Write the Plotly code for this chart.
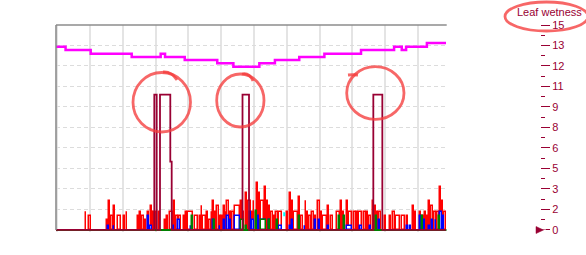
import plotly.graph_objects as go

# ---------------- data ----------------
# time axis in hours since start of record
X_END = 142.95
grid_t0 = 12.44
grid_dt = 12.0

# right axis (Leaf wetness) ticks
lw_tickvals = [0, 1.5, 3, 4.5, 6, 7.5, 9, 10.5, 12, 13.5, 15]
lw_ticktext = ["0", "2", "3", "5", "6", "8", "9", "11", "12", "13", "15"]
lw_minorvals = [0.75, 2.25, 3.75, 5.25, 6.75, 8.25, 9.75, 11.25, 12.75, 14.25]

# red series: change times (h) and values held until next change
red_t = [0, 10.61, 11.34, 11.71, 13.06, 18.55, 19.03, 19.76, 20.86, 21.59,
         22.32, 24.04, 24.52, 25.61, 26.24, 29.64, 30.55, 31.21, 32.2, 33.19,
         33.3, 34.39, 35.13, 35.6, 36.59, 37.58, 38.31, 39.88, 40.25, 40.98,
         41.46, 42.92, 43.8, 44.82, 45.99, 46.58, 47.31, 48.04, 50.49, 51.96,
         52.32, 53.06, 53.68, 54.89, 55.62, 56.97, 57.34, 58.07, 58.8, 59.64,
         60.63, 61.21, 61.95, 62.46, 63.3, 64.29, 65.24, 67.33, 68.31, 69.15,
         69.99, 71.6, 72.19, 72.81, 73.43, 74.16, 74.9, 76.11, 76.84, 77.83,
         78.56, 79.51, 80.39, 81.34, 82.95, 84.41, 85.25, 85.99, 86.83, 88.66,
         89.54, 90.49, 91.11, 91.73, 92.47, 93.56, 94.4, 95.39, 95.76, 96.6,
         97.44, 99.27, 100.0, 100.26, 101.46, 102.45, 103.92, 104.65, 105.38, 106.37,
         107.1, 108.56, 108.78, 110.03, 110.76, 112.22, 112.44, 113.43, 113.68, 114.27,
         115.26, 115.88, 116.47, 117.2, 117.93, 119.17, 120.01, 121.0, 121.95, 122.83,
         123.2, 124.04, 125.87, 126.49, 127.7, 128.32, 129.05, 130.26, 130.99, 131.98,
         132.82, 133.81, 134.65, 135.38, 136.37, 137.1, 138.05, 139.29, 140.14, 140.87,
         141.71, 142.7]
red_v = [0, 1.3, 0, 1.0, 0, 0.7, 2.1, 1.0, 1.75, 0,
         1.0, 0, 1.0, 1.3, 0, 1.0, 1.3, 1.0, 0.7, 0,
         1.3, 1.75, 1.3, 1.3, 0, 1.3, 0, 0.7, 1.0, 0,
         1.3, 2.1, 1.0, 1.0, 0, 1.0, 1.3, 1.3, 1.0, 0,
         1.0, 1.75, 1.0, 1.3, 0.7, 1.3, 2.1, 1.3, 1.75, 1.0,
         1.0, 1.75, 1.3, 2.1, 1.3, 1.3, 1.75, 2.1, 1.3, 2.7,
         2.1, 1.3, 2.1, 1.3, 3.45, 2.7, 2.1, 3.15, 2.1, 1.75,
         1.3, 1.0, 1.3, 1.3, 0, 1.3, 2.7, 2.1, 1.3, 2.4,
         1.0, 0, 2.1, 1.3, 1.0, 1.3, 1.0, 0, 2.1, 1.3,
         1.0, 1.75, 0, 1.0, 0, 1.3, 2.1, 1.3, 0, 2.1,
         1.3, 0, 1.3, 1.3, 1.3, 0, 1.3, 0, 1.3, 1.0,
         0, 2.1, 1.75, 1.3, 1.3, 0, 1.0, 0, 1.0, 0,
         1.3, 1.0, 0, 1.0, 0, 1.0, 0, 1.75, 1.3, 0,
         1.3, 1.0, 1.3, 1.0, 2.1, 1.75, 1.3, 1.3, 3.15, 2.1,
         1.3, 0]

# blue series: bar start, end (h) and value
blue_start = [18.92, 20.86, 33.3, 34.03, 42.7, 44.38, 49.03, 49.76, 57.34, 59.64,
              61.1, 62.46, 63.3, 65.24, 68.42, 70.73, 71.46, 73.8, 74.64, 75.85,
              77.83, 81.34, 85.36, 86.24, 90.74, 94.4, 95.86, 99.27, 106.11, 110.98,
              114.64, 117.93, 128.06, 129.27, 132.93, 134.39, 136.22, 137.47, 138.68, 140.25,
              141.24]
blue_end = [19.5, 21.48, 34.03, 35.13, 43.43, 45.37, 49.76, 50.49, 57.92, 60.37,
            61.95, 63.3, 64.03, 67.58, 69.15, 71.46, 72.45, 74.64, 75.85, 76.84,
            78.56, 82.95, 86.24, 87.08, 91.47, 95.13, 96.6, 100.0, 108.56, 112.22,
            115.37, 118.81, 128.8, 129.9, 133.81, 135.12, 137.1, 138.05, 139.29, 141.24,
            141.97]
blue_val = [0.3, 0.3, 1.0, 0.3, 0.3, 0.7, 0.3, 0.7, 0.7, 0.3,
            0.7, 1.0, 0.7, 1.0, 0.3, 1.3, 0.7, 1.0, 0.7, 0.7,
            0.7, 0.3, 0.3, 0.7, 0.3, 0.7, 0.7, 0.3, 0.3, 0.3,
            0.3, 0.7, 0.3, 0.3, 1.0, 0.7, 0.3, 0.7, 0.7, 1.3,
            1.0]

# green series
green_start = [49.65, 57.56, 67.33, 69.15, 72.81, 74.64, 77.68, 80.5, 88.66, 103.29,
               105.12, 116.72, 133.81, 139.88]
green_end = [50.24, 58.29, 69.15, 69.89, 73.8, 76.84, 78.56, 81.34, 89.54, 103.92,
             105.85, 117.56, 134.39, 140.51]
green_val = [1.0, 0.7, 0.7, 0.3, 1.4, 0.7, 0.7, 0.7, 1.0, 1.0,
             1.0, 1.0, 1.0, 1.0]

# cyan fragment
cyan_t = [83.5, 83.5]
cyan_v = [1.0, 1.3]

# magenta line (step)
mag_t = [0, 3.5, 12.7, 27.7, 38.3, 39.9, 47.1, 59.0, 64.9, 74.4,
         80.1, 89.0, 98.2, 111.6, 123.7, 126.5, 128.1, 135.7, 142.7]
mag_v = [13.4, 13.17, 12.9, 12.66, 12.9, 12.66, 12.44, 12.2, 11.95, 12.2,
         12.44, 12.66, 12.9, 13.17, 13.4, 13.17, 13.4, 13.68, 13.68]

# leaf wetness (step)
lw_t = [0, 35.97, 36.84, 38.05, 41.82, 42.33, 68.24, 70.62, 116.1, 119.4, 142.7]
lw_v = [0, 9.9, 0, 9.9, 5.0, 0, 9.9, 0, 9.9, 0, 0]

# ---------------- style ----------------
CRIMSON = "#990033"
RED = "#ff0000"
BLUE = "#0000ff"
GREEN = "#008000"
MAGENTA = "#ff00ff"
MARK = "rgba(245,60,60,0.78)"
FONT = "Liberation Sans, Arial, sans-serif"

W, H = 586, 255
ML, MR, MT, MB = 56, 10, 25, 23
PW, PH = W - ML - MR, H - MT - MB
XDOM = 390.7 / PW
SHRINK = 0.37  # outline compensation in hours


def px(xp, yp):
    return (xp - ML) / PW, (H - MB - yp) / PH


def bars_from_steps(t, v):
    xs, ws, ys = [], [], []
    for i in range(len(t) - 1):
        if v[i] > 0:
            a, b = t[i], t[i + 1]
            xs.append((a + b) / 2)
            ws.append(max(b - a - SHRINK, 0.12))
            ys.append(v[i])
    return xs, ws, ys


def bars_from_ranges(s, e, v):
    xs = [(a + b) / 2 for a, b in zip(s, e)]
    ws = [max(b - a - SHRINK, 0.12) for a, b in zip(s, e)]
    return xs, ws, list(v)


fig = go.Figure()
for (xs, ws, ys), col in [
    (bars_from_steps(red_t, red_v), RED),
    (bars_from_ranges(blue_start, blue_end, blue_val), BLUE),
    (bars_from_ranges(green_start, green_end, green_val), GREEN),
]:
    fig.add_trace(go.Bar(x=xs, y=ys, width=ws, base=0,
                         marker=dict(color="white", line=dict(color=col, width=1.5)),
                         hoverinfo="skip"))

fig.add_trace(go.Scatter(x=[0, X_END], y=[0, 0], mode="lines",
                         line=dict(color=GREEN, width=2), hoverinfo="skip"))
fig.add_trace(go.Scatter(x=cyan_t, y=cyan_v, mode="lines",
                         line=dict(color="#00ffff", width=2), hoverinfo="skip"))
fig.add_trace(go.Scatter(x=mag_t, y=mag_v, mode="lines", line_shape="hv",
                         line=dict(color=MAGENTA, width=2.5), hoverinfo="skip"))
fig.add_trace(go.Scatter(x=lw_t, y=lw_v, mode="lines", line_shape="hv", yaxis="y2",
                         line=dict(color=CRIMSON, width=1.8), hoverinfo="skip"))

shapes = []
# plot border (top and left)
x0, y0 = px(56, 25)
x1, _ = px(446.7, 25)
_, yb = px(56, 230)
shapes.append(dict(type="line", xref="paper", yref="paper", x0=x0, x1=x1, y0=y0, y1=y0,
                   line=dict(color="#8c8c8c", width=1.6), layer="above"))
shapes.append(dict(type="line", xref="paper", yref="paper", x0=x0, x1=x0, y0=yb, y1=y0,
                   line=dict(color="#8c8c8c", width=1.6), layer="above"))

# white gap + triangle marker at 0 on the leaf wetness axis
a, b = px(540, 229.5)
c, d = px(546, 230.5)
shapes.append(dict(type="rect", xref="paper", yref="paper", x0=a, x1=c, y0=d, y1=b,
                   fillcolor="white", line=dict(width=0), layer="above"))
t1, t2, t3 = px(536, 226.5), px(543.5, 230), px(536, 233.5)
shapes.append(dict(type="path", xref="paper", yref="paper",
                   path=f"M {t1[0]},{t1[1]} L {t2[0]},{t2[1]} L {t3[0]},{t3[1]} Z",
                   fillcolor=CRIMSON, line=dict(color=CRIMSON, width=0.5), layer="above"))

# hand-drawn red marks
for (xa, ya, xb, yb2) in [(133, 72.5, 190.5, 132), (216.7, 74, 264, 127),
                          (346.7, 66.7, 404, 119.3), (505, 2, 588, 31)]:
    p0, p1 = px(xa, yb2), px(xb, ya)
    shapes.append(dict(type="circle", xref="paper", yref="paper",
                       x0=p0[0], y0=p0[1], x1=p1[0], y1=p1[1],
                       line=dict(color=MARK, width=2.8), layer="above"))
for pts in [[(163, 72), (171, 71), (177, 80)],
            [(242, 74), (249, 72), (253, 81)],
            [(348, 75), (353, 74.5), (358, 75)]]:
    q = [px(*p) for p in pts]
    shapes.append(dict(type="path", xref="paper", yref="paper",
                       path=f"M {q[0][0]},{q[0][1]} Q {q[1][0]},{q[1][1]} {q[2][0]},{q[2][1]}",
                       line=dict(color=MARK, width=2.8), layer="above"))

tx, ty = px(549.5, 12.3)

fig.update_layout(
    width=W, height=H, autosize=False,
    margin=dict(l=ML, r=MR, t=MT, b=MB, pad=0),
    paper_bgcolor="white", plot_bgcolor="white",
    showlegend=False, barmode="overlay", bargap=0,
    xaxis=dict(domain=[0, XDOM], range=[0, X_END], tickmode="linear", tick0=grid_t0,
               dtick=grid_dt, showgrid=True, gridcolor="#e4e4e4", gridwidth=2,
               showticklabels=False, ticks="", zeroline=False, showline=False,
               fixedrange=True),
    yaxis=dict(range=[-0.15, 15], tickmode="linear", tick0=0, dtick=1.5, showgrid=True,
               gridcolor="#dcdcdc", gridwidth=1, griddash="4px,3px",
               showticklabels=False, ticks="", zeroline=False, showline=False,
               fixedrange=True),
    yaxis2=dict(overlaying="y", anchor="free", position=(540 - ML) / PW, side="right",
                range=[-0.15, 15], tickmode="array", tickvals=lw_tickvals,
                ticktext=lw_ticktext, ticks="outside", ticklen=9, tickwidth=1,
                tickcolor=CRIMSON, tickfont=dict(family=FONT, size=11, color=CRIMSON),
                showgrid=False, zeroline=False, showline=False, fixedrange=True,
                minor=dict(tickmode="array", tickvals=lw_minorvals, ticks="outside",
                           ticklen=4, tickwidth=1, tickcolor=CRIMSON, showgrid=False)),
    shapes=shapes,
    annotations=[dict(text="Leaf wetness", xref="paper", yref="paper", x=tx, y=ty,
                      xanchor="center", yanchor="middle", showarrow=False,
                      font=dict(family=FONT, size=11, color=CRIMSON))],
)

fig.write_html("out.html")
